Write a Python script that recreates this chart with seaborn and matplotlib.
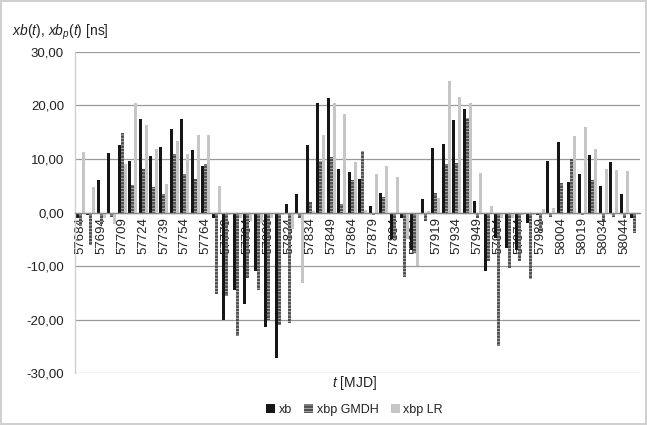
import matplotlib
matplotlib.use("Agg")
import matplotlib.pyplot as plt
from matplotlib.patches import Patch
from matplotlib.ticker import FuncFormatter, MultipleLocator
import seaborn as sns
import pandas as pd

# ---------------- data ----------------
mjd = [57684, 57689, 57694, 57701, 57709, 57716, 57724, 57731, 57739, 57746,
       57754, 57759, 57764, 57771, 57779, 57786, 57794, 57801, 57809, 57816,
       57824, 57829, 57834, 57841, 57849, 57856, 57864, 57871, 57879, 57886,
       57894, 57899, 57904, 57911, 57919, 57926, 57934, 57941, 57949, 57956,
       57964, 57969, 57974, 57981, 57989, 57996, 58004, 58011, 58019, 58026,
       58034, 58039, 58044, 58049]

xb = [-1.0, -0.5, 6.0, 11.1, 12.6, 9.6, 17.5, 10.6, 12.3, 15.6,
      17.5, 11.6, 8.6, -1.0, -20.1, -14.5, -17.0, -11.0, -21.4, -27.1,
      1.5, 3.5, 12.6, 20.4, 21.4, 8.1, 7.6, 6.3, 1.3, 3.6,
      -5.0, -1.0, -7.0, 2.5, 12.1, 12.8, 17.3, 19.4, 2.1, -10.9,
      -4.8, -6.7, -7.0, -2.0, -0.5, 9.7, 13.1, 5.7, 7.1, 10.8,
      5.0, 9.4, 3.5, -1.0]

xbp_gmdh = [-2.5, -6.0, -2.2, -0.8, 14.8, 5.1, 8.1, 4.8, 3.5, 10.9,
            7.2, 6.2, 9.0, -15.2, -15.5, -23.0, -12.3, -14.5, -20.0, -21.0,
            -20.6, -1.0, 2.0, 9.7, 10.4, 1.5, 6.0, 11.5, -0.5, 2.9,
            -5.0, -12.1, -7.6, -1.6, 3.6, 9.0, 9.2, 17.7, -1.0, -9.0,
            -24.9, -10.3, -9.0, -12.4, -3.5, -0.8, 5.5, 9.9, -0.5, 6.1,
            -1.5, -0.8, -1.0, -3.8]

xbp_lr = [11.3, 4.8, -1.0, -2.2, 9.1, 20.5, 16.3, 11.9, 5.4, 13.3,
          11.0, 14.5, 14.5, 4.9, -0.5, -1.0, -1.5, -2.0, -1.0, -0.5,
          -3.0, -13.2, 0.3, 14.4, 20.4, 18.4, 9.4, 0.5, 7.1, 8.7,
          6.6, -5.0, -10.0, 0.3, 2.7, 24.5, 21.6, 20.4, 7.4, 1.2,
          -1.0, -1.0, -0.5, -0.5, 0.6, 0.8, 0.0, 14.2, 15.9, 11.8,
          8.2, 8.0, 7.8, 0.0]

series_names = ["xb", "xbp GMDH", "xbp LR"]
y_ticks = [-30, -20, -10, 0, 10, 20, 30]

# ---------------- style ----------------
sns.set_theme(style="white")
plt.rcParams["font.family"] = ["Liberation Sans", "DejaVu Sans"]
plt.rcParams["mathtext.fontset"] = "custom"
plt.rcParams["mathtext.rm"] = "Liberation Sans"
plt.rcParams["mathtext.it"] = "Liberation Sans:italic"
plt.rcParams["hatch.linewidth"] = 0.6

txt = "#222222"
colors = {"xb": "#161616", "xbp GMDH": "#505050", "xbp LR": "#c6c6c6"}

df = pd.DataFrame({
    "mjd": [str(m) for m in mjd] * 3,
    "value": xb + xbp_gmdh + xbp_lr,
    "series": [series_names[0]] * len(mjd) + [series_names[1]] * len(mjd) + [series_names[2]] * len(mjd),
})

fig = plt.figure(figsize=(6.47, 4.25), dpi=100)
ax = fig.add_axes([0.116, 0.122, 0.873, 0.756])

sns.barplot(data=df, x="mjd", y="value", hue="series", palette=colors,
            order=[str(m) for m in mjd], hue_order=series_names,
            width=0.86, gap=0, dodge=True, errorbar=None, legend=False,
            linewidth=0, ax=ax)

for p in ax.containers[1]:
    p.set_hatch("-----")
    p.set_edgecolor("#bdbdbd")
    p.set_linewidth(0)

ax.set_axisbelow(True)
ax.set_ylim(-30, 30)
ax.set_xlim(-0.5, len(mjd) - 0.5)
ax.yaxis.set_major_locator(MultipleLocator(10))
ax.yaxis.set_major_formatter(FuncFormatter(lambda v, _: f"{v:.2f}".replace(".", ",")))
ax.grid(axis="y", color="#9a9a9a", linewidth=0.9)
ax.grid(axis="x", visible=False)

for s in ["top", "right"]:
    ax.spines[s].set_visible(False)
ax.spines["left"].set_color("#d0d0d0")
ax.spines["left"].set_linewidth(1.0)
ax.spines["bottom"].set_position(("data", 0))
ax.spines["bottom"].set_color("#8a8a8a")
ax.spines["bottom"].set_linewidth(1.0)

ax.set_xticks(range(0, len(mjd), 2))
ax.set_xticklabels([str(m) for m in mjd[::2]], rotation=90, fontsize=9.5, color=txt)
ax.tick_params(axis="x", length=0, pad=3)
ax.tick_params(axis="y", length=0, pad=8, labelsize=9.5, labelcolor=txt)
ax.set_xlabel("")
ax.set_ylabel("")

fig.text(0.018, 0.925, r"$xb(t)$, $xb_p(t)$ [ns]", fontsize=10, color=txt, ha="left", va="center")
fig.text(0.548, 0.098, r"$t$ [MJD]", fontsize=10, color=txt, ha="center", va="center")

handles = [Patch(facecolor=colors["xb"], edgecolor="none"),
           Patch(facecolor=colors["xbp GMDH"], edgecolor="#bdbdbd", hatch="-----", linewidth=0),
           Patch(facecolor=colors["xbp LR"], edgecolor="none")]
fig.legend(handles, series_names, loc="center", bbox_to_anchor=(0.548, 0.035), ncol=3,
           frameon=False, fontsize=9, handlelength=0.7, handleheight=0.7,
           handletextpad=0.3, columnspacing=1.0, labelcolor=txt)

fig.patch.set_edgecolor("#d0d0d0")
fig.patch.set_linewidth(1.5)

fig.savefig("out.png", dpi=100, edgecolor=fig.get_edgecolor())
